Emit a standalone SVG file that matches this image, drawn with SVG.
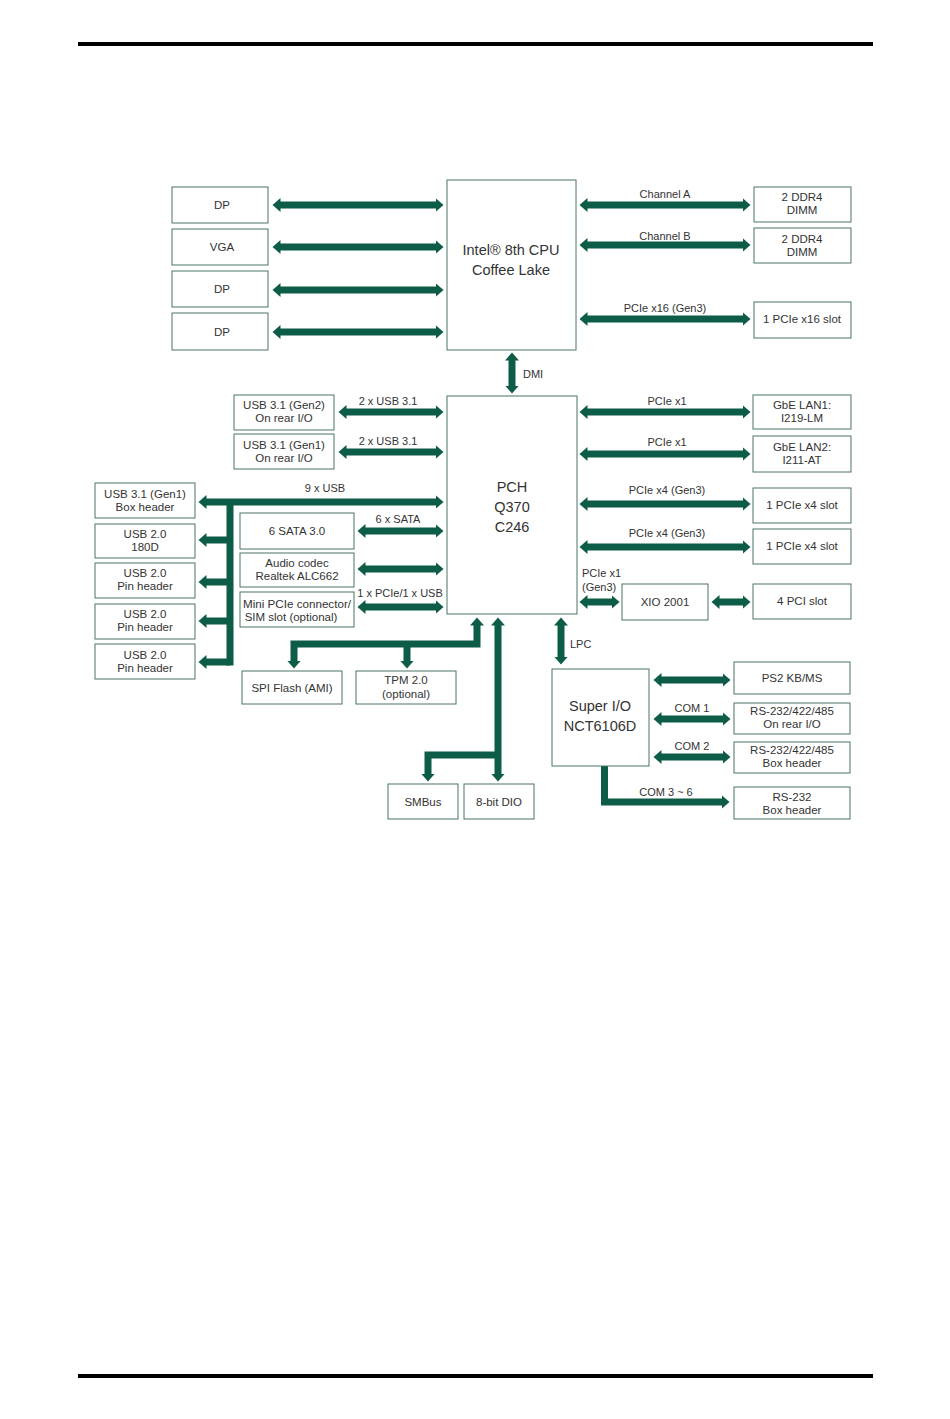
<svg xmlns="http://www.w3.org/2000/svg" width="950" height="1419" viewBox="0 0 950 1419">
<defs>
<marker id="ah" markerUnits="userSpaceOnUse" markerWidth="10" markerHeight="16" viewBox="0 -8 10 16" refX="0.5" refY="0" orient="auto-start-reverse"><path d="M0,-7 L8,0 L0,7 Z" fill="#0c5c47"/></marker>
<style>
.b{fill:#fff;stroke:#4a7566;stroke-width:1}
.t{font-family:"Liberation Sans",Arial,sans-serif;font-size:11.5px;fill:#333;text-anchor:middle}
.l{font-family:"Liberation Sans",Arial,sans-serif;font-size:11px;fill:#333;text-anchor:middle}
.s{text-anchor:start}
.big{font-family:"Liberation Sans",Arial,sans-serif;font-size:14.5px;fill:#333;text-anchor:middle}
.a{fill:none;stroke:#0c5c47;stroke-width:7;marker-start:url(#ah);marker-end:url(#ah)}
.e{fill:none;stroke:#0c5c47;stroke-width:7;marker-end:url(#ah)}
.n{fill:none;stroke:#0c5c47;stroke-width:7}
</style>
</defs>
<rect width="950" height="1419" fill="#fff"/>
<rect x="78" y="42" width="795" height="4" fill="#000"/>
<rect x="78" y="1374" width="795" height="4" fill="#000"/>

<g id="connectors">
<path class="a" d="M280,205 H436"/>
<path class="a" d="M280,247 H436"/>
<path class="a" d="M280,290 H436"/>
<path class="a" d="M280,332 H436"/>
<path class="a" d="M587,205 H743"/>
<path class="a" d="M587,245 H743"/>
<path class="a" d="M587,319 H743"/>
<path class="a" d="M512,360 V386"/>
<path class="a" d="M346,412 H436"/>
<path class="a" d="M346,452 H436"/>
<path class="a" d="M206,502 H436"/>
<path class="n" d="M230,502 V665.5"/>
<path class="e" d="M230,540 H206"/>
<path class="e" d="M230,582 H206"/>
<path class="e" d="M230,621 H206"/>
<path class="e" d="M230,662 H206"/>
<path class="a" d="M365,531 H436"/>
<path class="a" d="M365,569 H436"/>
<path class="a" d="M365,607 H436"/>
<path class="a" d="M294,661 V644 H477 V625"/>
<path class="e" d="M407,644 V661"/>
<path class="a" d="M498,625 V774"/>
<path class="e" d="M498,755 H428 V774"/>
<path class="a" d="M561,625 V657"/>
<path class="a" d="M587,412 H743"/>
<path class="a" d="M587,454 H743"/>
<path class="a" d="M587,504 H743"/>
<path class="a" d="M587,547 H743"/>
<path class="a" d="M587,602 H612"/>
<path class="a" d="M719,602 H743"/>
<path class="a" d="M661,680 H723"/>
<path class="a" d="M661,719 H723"/>
<path class="a" d="M661,757 H723"/>
<path class="e" d="M604.5,766 V802 H722"/>
</g>

<g id="labels">
<text class="l" x="665" y="198">Channel A</text>
<text class="l" x="665" y="240">Channel B</text>
<text class="l" x="665" y="312">PCIe x16 (Gen3)</text>
<text class="l s" x="523" y="378">DMI</text>
<text class="l" x="388" y="405">2 x USB 3.1</text>
<text class="l" x="388" y="445">2 x USB 3.1</text>
<text class="l" x="325" y="492">9 x USB</text>
<text class="l" x="398" y="523">6 x SATA</text>
<text class="l" x="400" y="597">1 x PCIe/1 x USB</text>
<text class="l" x="667" y="405">PCIe x1</text>
<text class="l" x="667" y="446">PCIe x1</text>
<text class="l" x="667" y="494">PCIe x4 (Gen3)</text>
<text class="l" x="667" y="537">PCIe x4 (Gen3)</text>
<text class="l s" x="582" y="577">PCIe x1</text>
<text class="l s" x="582" y="591">(Gen3)</text>
<text class="l s" x="570" y="648">LPC</text>
<text class="l" x="692" y="712">COM 1</text>
<text class="l" x="692" y="750">COM 2</text>
<text class="l" x="666" y="796">COM 3 ~ 6</text>
</g>

<g id="cpu"><rect class="b" x="447" y="180" width="129" height="170"/><text class="big" x="511" y="255">Intel® 8th CPU</text><text class="big" x="511" y="275">Coffee Lake</text></g>
<g id="dp1"><rect class="b" x="172" y="187" width="96" height="36"/><text class="t" x="222" y="209">DP</text></g>
<g id="vga"><rect class="b" x="172" y="229" width="96" height="36"/><text class="t" x="222" y="251">VGA</text></g>
<g id="dp2"><rect class="b" x="172" y="271" width="96" height="36"/><text class="t" x="222" y="293">DP</text></g>
<g id="dp3"><rect class="b" x="172" y="313" width="96" height="37"/><text class="t" x="222" y="336">DP</text></g>
<g id="ddr-a"><rect class="b" x="754" y="187" width="97" height="35"/><text class="t" x="802" y="201">2 DDR4</text><text class="t" x="802" y="214">DIMM</text></g>
<g id="ddr-b"><rect class="b" x="754" y="228" width="97" height="35"/><text class="t" x="802" y="243">2 DDR4</text><text class="t" x="802" y="256">DIMM</text></g>
<g id="pcie16"><rect class="b" x="754" y="302" width="97" height="36"/><text class="t" x="802" y="323">1 PCIe x16 slot</text></g>

<g id="pch"><rect class="b" x="447" y="396" width="130" height="218"/><text class="big" x="512" y="492">PCH</text><text class="big" x="512" y="512">Q370</text><text class="big" x="512" y="532">C246</text></g>
<g id="usb-gen2"><rect class="b" x="234" y="395" width="100" height="35"/><text class="t" x="284" y="409">USB 3.1 (Gen2)</text><text class="t" x="284" y="422">On rear I/O</text></g>
<g id="usb-gen1"><rect class="b" x="234" y="434" width="100" height="35"/><text class="t" x="284" y="449">USB 3.1 (Gen1)</text><text class="t" x="284" y="462">On rear I/O</text></g>
<g id="usb-box"><rect class="b" x="95" y="483" width="100" height="35"/><text class="t" x="145" y="498">USB 3.1 (Gen1)</text><text class="t" x="145" y="511">Box header</text></g>
<g id="usb-180d"><rect class="b" x="95" y="524" width="100" height="34"/><text class="t" x="145" y="538">USB 2.0</text><text class="t" x="145" y="551">180D</text></g>
<g id="usb-pin1"><rect class="b" x="95" y="563" width="100" height="35"/><text class="t" x="145" y="577">USB 2.0</text><text class="t" x="145" y="590">Pin header</text></g>
<g id="usb-pin2"><rect class="b" x="95" y="604" width="100" height="35"/><text class="t" x="145" y="618">USB 2.0</text><text class="t" x="145" y="631">Pin header</text></g>
<g id="usb-pin3"><rect class="b" x="95" y="644" width="100" height="35"/><text class="t" x="145" y="659">USB 2.0</text><text class="t" x="145" y="672">Pin header</text></g>
<g id="sata"><rect class="b" x="240" y="513" width="114" height="36"/><text class="t" x="297" y="535">6 SATA 3.0</text></g>
<g id="audio"><rect class="b" x="240" y="553" width="114" height="34"/><text class="t" x="297" y="567">Audio codec</text><text class="t" x="297" y="580">Realtek ALC662</text></g>
<g id="minipcie"><rect class="b" x="240" y="592" width="114" height="35"/><text class="t" x="297" y="608" textLength="108" lengthAdjust="spacingAndGlyphs">Mini PCIe connector/</text><text class="t" x="291" y="621">SIM slot (optional)</text></g>
<g id="spi"><rect class="b" x="242" y="671" width="100" height="33"/><text class="t" x="292" y="692">SPI Flash (AMI)</text></g>
<g id="tpm"><rect class="b" x="356" y="671" width="100" height="33"/><text class="t" x="406" y="684">TPM 2.0</text><text class="t" x="406" y="698">(optional)</text></g>
<g id="smbus"><rect class="b" x="388" y="784" width="70" height="35"/><text class="t" x="423" y="806">SMBus</text></g>
<g id="dio"><rect class="b" x="464" y="784" width="70" height="35"/><text class="t" x="499" y="806">8-bit DIO</text></g>

<g id="lan1"><rect class="b" x="753" y="395" width="98" height="34"/><text class="t" x="802" y="409">GbE LAN1:</text><text class="t" x="802" y="422">I219-LM</text></g>
<g id="lan2"><rect class="b" x="753" y="436" width="98" height="36"/><text class="t" x="802" y="451">GbE LAN2:</text><text class="t" x="802" y="464">I211-AT</text></g>
<g id="pcie4-1"><rect class="b" x="753" y="488" width="98" height="35"/><text class="t" x="802" y="509">1 PCIe x4 slot</text></g>
<g id="pcie4-2"><rect class="b" x="753" y="529" width="98" height="35"/><text class="t" x="802" y="550">1 PCIe x4 slot</text></g>
<g id="xio"><rect class="b" x="622" y="584" width="86" height="36"/><text class="t" x="665" y="606">XIO 2001</text></g>
<g id="pci"><rect class="b" x="753" y="584" width="98" height="35"/><text class="t" x="802" y="605">4 PCI slot</text></g>

<g id="superio"><rect class="b" x="552" y="669" width="97" height="97"/><text class="big" x="600" y="711">Super I/O</text><text class="big" x="600" y="731">NCT6106D</text></g>
<g id="ps2"><rect class="b" x="734" y="662" width="116" height="32"/><text class="t" x="792" y="682">PS2 KB/MS</text></g>
<g id="com1"><rect class="b" x="734" y="703" width="116" height="31"/><text class="t" x="792" y="715">RS-232/422/485</text><text class="t" x="792" y="728">On rear I/O</text></g>
<g id="com2"><rect class="b" x="734" y="742" width="116" height="31"/><text class="t" x="792" y="754">RS-232/422/485</text><text class="t" x="792" y="767">Box header</text></g>
<g id="com36"><rect class="b" x="734" y="787" width="116" height="32"/><text class="t" x="792" y="801">RS-232</text><text class="t" x="792" y="814">Box header</text></g>
</svg>
